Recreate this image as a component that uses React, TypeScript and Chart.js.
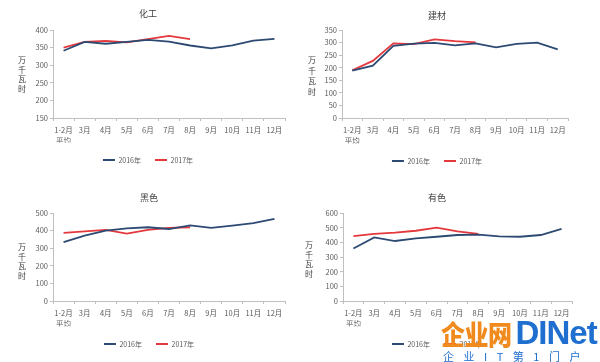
import React, { useEffect, useRef } from 'react';
import { Chart, registerables } from 'chart.js';

Chart.register(...registerables);

const categories: (string | string[])[] = [['1-2月', '平均'], '3月', '4月', '5月', '6月', '7月', '8月', '9月', '10月', '11月', '12月'];
const seriesNames = ['2016年', '2017年'];
const axisTitle = '万千瓦时';

const chemTitle = '化工';
const chem2016 = [341, 366, 361, 366, 372, 367, 356, 348, 356, 370, 375];
const chem2017 = [350, 366, 369, 365, 374, 383, 374];

const buildTitle = '建材';
const build2016 = [188, 208, 287, 296, 299, 289, 297, 281, 295, 300, 273];
const build2017 = [190, 227, 297, 294, 313, 306, 301];

const ferrousTitle = '黑色';
const ferrous2016 = [334, 372, 400, 413, 419, 409, 430, 415, 428, 443, 466];
const ferrous2017 = [387, 396, 404, 383, 404, 415, 419];

const nonferrousTitle = '有色';
const nonferrous2016 = [358, 434, 409, 427, 438, 450, 452, 441, 438, 450, 491];
const nonferrous2017 = [443, 457, 466, 479, 500, 475, 457];

const COLOR_2016 = '#2c4a72';
const COLOR_2017 = '#e5383c';
const FONT = '"Noto Sans CJK SC", "DejaVu Sans", sans-serif';

type Spec = {
  title: string;
  d2016: number[];
  d2017: number[];
  yMin: number;
  yMax: number;
  yStep: number;
  left: number;
  right: number;
  top: number;
  bottom: number;
  titleCX: number;
  titleCY: number;
  legendCY: number;
  axX: number;
  axY: number;
  axStep: number;
  posX: number;
  posY: number;
};

const W = 300;
const H = 181;
const LEG_FONT = 7;
const LEG_PAD = 14;

const vTitlePlugin = {
  id: 'vtitle',
  afterDraw(chart: any, _args: any, opts: any) {
    const ctx = chart.ctx;
    ctx.save();
    ctx.font = `8px ${FONT}`;
    ctx.fillStyle = '#404040';
    ctx.textAlign = 'center';
    ctx.textBaseline = 'middle';
    Array.from(opts.text as string).forEach((ch, i) => {
      ctx.fillText(ch, opts.x, opts.y + i * opts.step);
    });
    ctx.restore();
  },
};

function Panel({ spec }: { spec: Spec }) {
  const ref = useRef<HTMLCanvasElement | null>(null);
  useEffect(() => {
    if (!ref.current) return;
    const padR = W - spec.right;
    const padL = 2 * spec.titleCX - W + padR;
    const yWidth = spec.left - padL;
    const titlePadTop = spec.titleCY - 5.4;
    const titlePadBottom = spec.top - spec.titleCY - 5.4;
    const legendTop = spec.legendCY - LEG_PAD - LEG_FONT / 2;
    const xHeight = legendTop - spec.bottom;
    const padB = H - legendTop - (LEG_FONT + LEG_PAD + 10);

    const chart = new Chart(ref.current, {
      type: 'line',
      data: {
        labels: categories,
        datasets: [
          {
            label: seriesNames[0],
            data: spec.d2016,
            borderColor: COLOR_2016,
            backgroundColor: COLOR_2016,
            borderWidth: 1.8,
            pointRadius: 0,
            tension: 0,
          },
          {
            label: seriesNames[1],
            data: spec.d2017,
            borderColor: COLOR_2017,
            backgroundColor: COLOR_2017,
            borderWidth: 1.8,
            pointRadius: 0,
            tension: 0,
          },
        ],
      },
      options: {
        responsive: false,
        animation: false,
        devicePixelRatio: 1,
        layout: { padding: { left: padL, right: padR, top: 0, bottom: padB } },
        plugins: {
          title: {
            display: true,
            text: spec.title,
            color: '#404040',
            font: { size: 9, family: FONT, weight: 'normal', lineHeight: 1.2 },
            padding: { top: titlePadTop, bottom: titlePadBottom },
          },
          legend: {
            display: true,
            position: 'bottom',
            labels: {
              usePointStyle: true,
              pointStyle: 'line',
              pointStyleWidth: 12,
              padding: LEG_PAD,
              color: '#595959',
              font: { size: LEG_FONT, family: FONT },
            },
          },
          tooltip: { enabled: false },
          vtitle: { text: axisTitle, x: spec.axX, y: spec.axY, step: spec.axStep },
        } as any,
        scales: {
          x: {
            offset: true,
            grid: {
              offset: true,
              drawOnChartArea: false,
              drawTicks: true,
              tickLength: 3,
              color: '#bfbfbf',
            },
            border: { color: '#bfbfbf', width: 1 },
            ticks: {
              autoSkip: false,
              maxRotation: 0,
              minRotation: 0,
              padding: 4,
              color: '#595959',
              font: { size: 7.5, family: FONT, lineHeight: 1.4 },
            },
            afterFit: (s: any) => {
              s.height = xHeight;
            },
          },
          y: {
            min: spec.yMin,
            max: spec.yMax,
            ticks: {
              stepSize: spec.yStep,
              padding: 2,
              color: '#595959',
              font: { size: 7.5, family: FONT },
            },
            grid: {
              drawOnChartArea: false,
              drawTicks: true,
              tickLength: 3,
              color: '#bfbfbf',
            },
            border: { color: '#bfbfbf', width: 1 },
            afterFit: (s: any) => {
              s.width = yWidth;
            },
          },
        },
      },
      plugins: [vTitlePlugin as any],
    });
    return () => chart.destroy();
  }, [spec]);
  return (
    <canvas
      ref={ref}
      width={W}
      height={H}
      style={{ position: 'absolute', left: spec.posX, top: spec.posY, width: W, height: H }}
    />
  );
}

const specs: Spec[] = [
  {
    title: chemTitle, d2016: chem2016, d2017: chem2017, yMin: 150, yMax: 400, yStep: 50,
    left: 53, right: 285, top: 30, bottom: 118, titleCX: 148, titleCY: 14, legendCY: 160,
    axX: 22, axY: 60, axStep: 9.7, posX: 0, posY: 0,
  },
  {
    title: buildTitle, d2016: build2016, d2017: build2017, yMin: 0, yMax: 350, yStep: 50,
    left: 42, right: 268, top: 30, bottom: 118, titleCX: 137, titleCY: 16, legendCY: 161,
    axX: 12, axY: 60, axStep: 10.5, posX: 300, posY: 0,
  },
  {
    title: ferrousTitle, d2016: ferrous2016, d2017: ferrous2017, yMin: 0, yMax: 500, yStep: 50,
    left: 53, right: 285, top: 32, bottom: 120, titleCX: 149, titleCY: 17, legendCY: 163,
    axX: 22, axY: 66, axStep: 9.5, posX: 0, posY: 181,
  },
  {
    title: nonferrousTitle, d2016: nonferrous2016, d2017: nonferrous2017, yMin: 0, yMax: 600, yStep: 100,
    left: 43, right: 272, top: 32, bottom: 120, titleCX: 137, titleCY: 17, legendCY: 163,
    axX: 9, axY: 64, axStep: 9.5, posX: 300, posY: 181,
  },
];

export default function App() {
  return (
    <div
      style={{
        position: 'absolute',
        left: 0,
        top: 0,
        width: 600,
        height: 362,
        background: '#ffffff',
        overflow: 'hidden',
      }}
    >
      {specs.map((s, i) => (
        <Panel key={i} spec={s} />
      ))}
      <div
        style={{
          position: 'absolute',
          left: 441,
          top: 316,
          height: 34,
          display: 'flex',
          alignItems: 'center',
          whiteSpace: 'nowrap',
        }}
      >
        <span
          style={{
            color: '#f08a1c',
            fontFamily: FONT,
            fontWeight: 900,
            fontSize: 24,
            lineHeight: '34px',
            letterSpacing: -0.5,
            display: 'inline-block',
            transform: 'scaleY(1.15)',
          }}
        >
          企业网
        </span>
        <span
          style={{
            color: '#1e6fd0',
            marginLeft: 4,
            fontFamily: '"Liberation Sans", Arial, sans-serif',
            fontWeight: 700,
            fontSize: 33,
            lineHeight: '34px',
            letterSpacing: -1,
          }}
        >
          DINet
        </span>
      </div>
      <div
        style={{
          position: 'absolute',
          left: 443,
          top: 350,
          fontFamily: FONT,
          fontSize: 11,
          lineHeight: '13px',
          color: '#1e6fd0',
          whiteSpace: 'nowrap',
          letterSpacing: 9.5,
        }}
      >
        企业IT第1门户
      </div>
    </div>
  );
}
